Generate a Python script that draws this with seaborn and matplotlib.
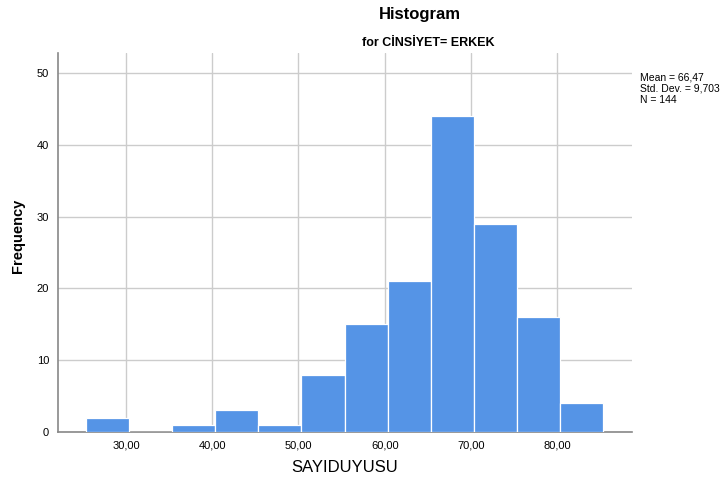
import numpy as np
import pandas as pd
import matplotlib
matplotlib.use('Agg')
import matplotlib.pyplot as plt
import seaborn as sns

# Histogram data
bin_edges = [25.35, 30.35, 35.35, 40.35, 45.35, 50.35, 55.35, 60.35,
             65.35, 70.35, 75.35, 80.35, 85.35]
counts = [2, 0, 1, 3, 1, 8, 15, 21, 44, 29, 16, 4]
bin_centers = [(a + b) / 2 for a, b in zip(bin_edges[:-1], bin_edges[1:])]
x_ticks = [30, 40, 50, 60, 70, 80]
y_ticks = [0, 10, 20, 30, 40, 50]
stats_text = "Mean = 66,47\nStd. Dev. = 9,703\nN = 144"

sns.set_style('white')
plt.rcParams['font.family'] = ['Liberation Sans', 'DejaVu Sans']
plt.rcParams['text.color'] = 'black'
plt.rcParams['xtick.color'] = 'black'
plt.rcParams['ytick.color'] = 'black'

fig = plt.figure(figsize=(7.24, 4.82), dpi=100)
ax = fig.add_axes([57.5 / 724, 1 - 432 / 482, (632 - 57.5) / 724, (432 - 53) / 482])

df = pd.DataFrame({'SAYIDUYUSU': bin_centers, 'count': counts})
sns.histplot(data=df, x='SAYIDUYUSU', weights='count', bins=bin_edges,
             color='#5594e6', alpha=1, edgecolor='white', linewidth=0.9, ax=ax, zorder=3)

ax.set_xlim(22.07, 88.67)
ax.set_ylim(0, 52.8)
ax.set_xticks(x_ticks)
ax.set_xticklabels([f"{v},00" for v in x_ticks], fontsize=8)
ax.set_yticks(y_ticks)
ax.set_yticklabels([str(v) for v in y_ticks], fontsize=8)
ax.grid(True, color='#cccccc', linewidth=1, zorder=0)
ax.set_axisbelow(True)
ax.tick_params(length=0, pad=6)

for s in ['top', 'right']:
    ax.spines[s].set_visible(False)
for s in ['left', 'bottom']:
    ax.spines[s].set_color('#888888')
    ax.spines[s].set_linewidth(1.2)

ax.set_xlabel('')
ax.set_ylabel('')
fig.text(345 / 724, 1 - 468 / 482, 'SAYIDUYUSU', ha='center', va='center', fontsize=12)
fig.text(18 / 724, 1 - 236 / 482, 'Frequency', ha='center', va='center', rotation=90,
         fontsize=10.5, fontweight='bold')
fig.text(420 / 724, 1 - 15 / 482, 'Histogram', ha='center', va='center', fontsize=12, fontweight='bold')
fig.text(428 / 724, 1 - 43 / 482, 'for CİNSİYET= ERKEK', ha='center', va='center', fontsize=9, fontweight='bold')
fig.text(640 / 724, 1 - 73 / 482, stats_text, ha='left', va='top', fontsize=7.5, linespacing=1.1)

plt.savefig('out.png', dpi=100)
plt.close()
